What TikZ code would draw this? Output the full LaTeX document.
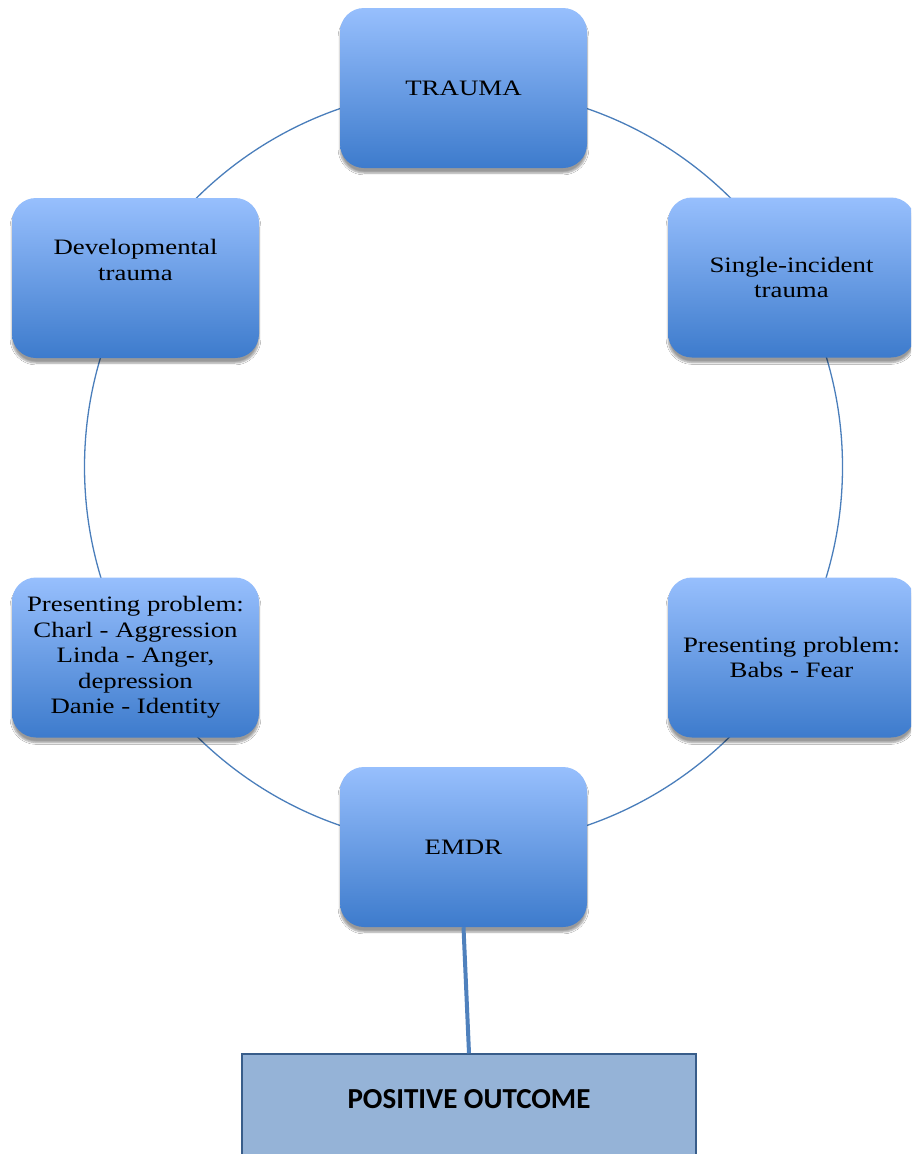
\documentclass[tikz,border=0pt]{standalone}
\usepackage{fontspec}
\setmainfont{Liberation Serif}[FakeStretch=1.22]
\newfontfamily\outcomefont{Carlito}
\usetikzlibrary{shadows.blur}
\definecolor{ringblue}{HTML}{4A7EBB}
\definecolor{boxtop}{HTML}{97BFFD}
\definecolor{boxbottom}{HTML}{3D7BCC}
\definecolor{outfill}{HTML}{95B3D7}
\definecolor{outdraw}{HTML}{385D8A}
\definecolor{stemblue}{HTML}{4F81BD}
\tikzset{
  tbox/.style={rounded corners=24pt, minimum width=247pt, minimum height=160pt,
    top color=boxtop, bottom color=boxbottom, draw=none,
    blur shadow={shadow xshift=0pt, shadow yshift=-5pt, shadow blur steps=6, shadow opacity=40},
    align=center, inner sep=0pt, font=\fontsize{22}{25.4}\selectfont},
  boxtext/.style={align=center, inner sep=0pt, font=\fontsize{22}{25.4}\selectfont},
  ring/.style={draw=ringblue, line width=1.3pt},
  stem/.style={draw=stemblue, line width=4pt},
  outbox/.style={draw=outdraw, line width=1.5pt, fill=outfill, minimum width=454pt,
    inner ysep=0pt, text height=54pt, text depth=60pt,
    font=\outcomefont\bfseries\fontsize{29}{33}\selectfont}
}
\begin{document}
\begin{tikzpicture}[x=1pt, y=-1pt]
  \useasboundingbox (0,0) rectangle (911,1154);
  \clip (0,0) rectangle (911,1154);
  \fill[white] (0,0) rectangle (911,1154);

  % cycle ring behind the stages
  \coordinate (ctr) at (463.5,467);
  \draw[ring] (ctr) circle[radius=379pt];

  % stages of the cycle
  \node[tbox] (trauma) at (463.5,88) {TRAUMA};
  \node[tbox] (single) at (791.5,277.5) {Single-incident\\trauma};
  \node[tbox] (presR) at (791.5,657.5) {Presenting problem:\\Babs - Fear};
  \node[tbox] (emdr) at (463.5,847) {EMDR};
  \node[tbox] (presL) at (135.5,657.5) {Presenting problem:\\Charl - Aggression\\Linda - Anger,\\depression\\Danie - Identity};
  \node[tbox] (dev) at (135.5,278) {};
  \node[boxtext] (devtext) at ([yshift=18pt]dev.center) {Developmental\\trauma};

  % outcome
  \node[outbox, anchor=base] (out) at (469,1108) {POSITIVE OUTCOME};
  \draw[stem] (emdr.south) -- (out.north);
\end{tikzpicture}
\end{document}
